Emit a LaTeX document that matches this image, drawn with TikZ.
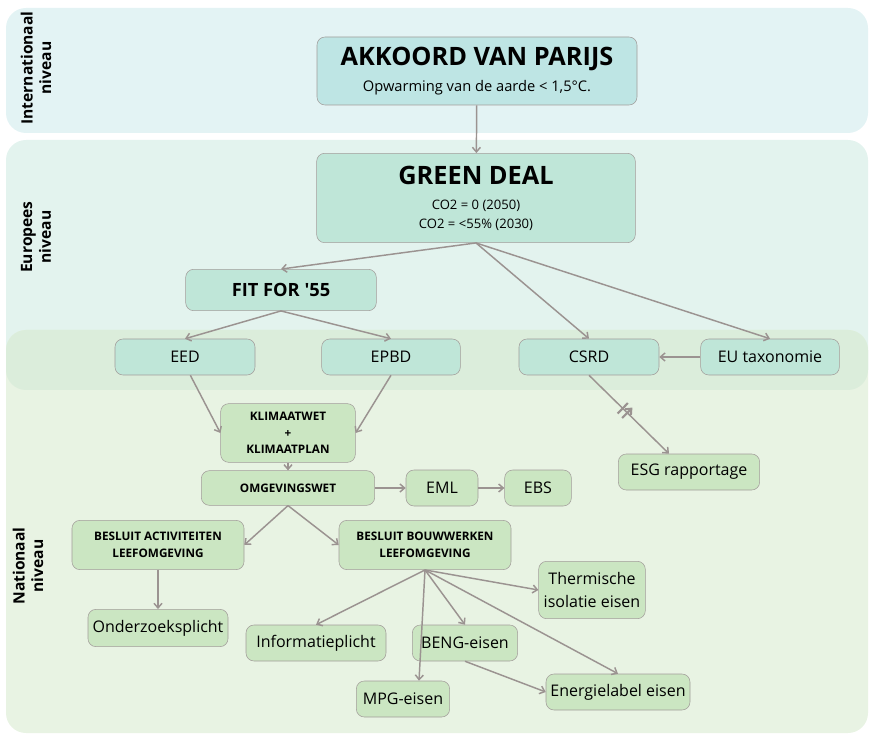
\documentclass[tikz,border=0pt]{standalone}
\usepackage{fontspec}
\setmainfont{Open Sans}
\usetikzlibrary{arrows.meta,decorations.markings}

\definecolor{bandint}{HTML}{E3F3F4}
\definecolor{bandeu}{HTML}{E3F3EE}
\definecolor{bandmix}{HTML}{DBEDDB}
\definecolor{bandnl}{HTML}{E8F3E3}
\definecolor{cyanfill}{HTML}{BEE5E4}
\definecolor{mintfill}{HTML}{BFE6D8}
\definecolor{greenfill}{HTML}{CBE6C2}
\definecolor{edgegray}{HTML}{A29C9A}
\definecolor{arrowgray}{HTML}{9B9391}

\newcommand{\bigtitle}{\bfseries\fontsize{19}{22}\selectfont}
\newcommand{\subtxt}{\fontsize{11}{13}\selectfont}
\newcommand{\smalltxt}{\fontsize{9.8}{12.5}\selectfont}
\newcommand{\nodetxt}{\fontsize{12}{17}\selectfont}
\newcommand{\capstxt}{\bfseries\fontsize{8.8}{12.5}\selectfont}

\begin{document}
\begin{tikzpicture}[x=0.75pt,y=-0.75pt,
    box/.style={draw=edgegray,rounded corners=6pt,align=center,inner sep=1pt,font=\nodetxt},
    eubox/.style={box,fill=mintfill},
    nlbox/.style={box,fill=greenfill},
    level/.style={rotate=90,align=center,font=\bfseries\fontsize{11.7}{14}\selectfont},
    conn/.style={draw=arrowgray,line width=1.1pt,-{Straight Barb[length=3.5pt,width=6pt]}}]
  \useasboundingbox (0,0) rectangle (870,737);

  % achtergrond per niveau
  \fill[bandint,rounded corners=15pt] (6,8) rectangle (868,133);
  \fill[bandeu,rounded corners=15pt] (6,140) rectangle (868,390);
  \fill[bandnl,rounded corners=15pt] (6,330) rectangle (868,733);
  \fill[bandmix,rounded corners=15pt] (6,330) rectangle (868,390);

  \node[level] (intl) at (36,68) {Internationaal\\niveau};
  \node[level] (eur) at (36,237) {Europees\\niveau};
  \node[level] (natl) at (28,566) {Nationaal\\niveau};

  % internationaal + europees
  \node[box,fill=cyanfill,minimum width=240pt,minimum height=51pt] (parijs) at (477,71)
    {\bigtitle AKKOORD VAN PARIJS\\[2pt]\subtxt Opwarming van de aarde < 1,5°C.};
  \node[eubox,minimum width=239pt,minimum height=67pt] (gd) at (476,198)
    {\bigtitle GREEN DEAL\\[2pt]\smalltxt CO2 = 0 (2050)\\[-3pt]\smalltxt CO2 = <55\% (2030)};
  \node[eubox,minimum width=143pt,minimum height=31pt,font=\bfseries\fontsize{13.7}{16}\selectfont] (fit) at (281,290) {FIT FOR \textquotesingle55};
  \node[eubox,minimum width=105pt,minimum height=27pt] (eed) at (185,357) {EED};
  \node[eubox,minimum width=104pt,minimum height=27pt] (epbd) at (391,357) {EPBD};
  \node[eubox,minimum width=105pt,minimum height=27pt] (csrd) at (589,357) {CSRD};
  \node[eubox,minimum width=104pt,minimum height=27pt] (tax) at (770,357) {EU taxonomie};

  % nationaal
  \node[nlbox,minimum width=101pt,minimum height=44pt,font=\capstxt] (klimaat) at (288,433) {KLIMAATWET\\+\\KLIMAATPLAN};
  \node[nlbox,minimum width=130pt,minimum height=26pt,font=\capstxt] (ow) at (288,488) {OMGEVINGSWET};
  \node[nlbox,minimum width=54pt,minimum height=27pt] (eml) at (442,488) {EML};
  \node[nlbox,minimum width=50pt,minimum height=27pt] (ebs) at (538,488) {EBS};
  \node[nlbox,minimum width=106pt,minimum height=27pt] (esg) at (689,472) {ESG rapportage};
  \node[nlbox,minimum width=129pt,minimum height=37pt,font=\capstxt] (bal) at (158,545) {BESLUIT ACTIVITEITEN\\LEEFOMGEVING};
  \node[nlbox,minimum width=129pt,minimum height=37pt,font=\capstxt] (bbl) at (425,545) {BESLUIT BOUWWERKEN\\LEEFOMGEVING};
  \node[nlbox,minimum width=105pt,minimum height=28pt] (onderzoek) at (158,628) {Onderzoeksplicht};
  \node[nlbox,minimum width=105pt,minimum height=27pt] (info) at (316,643) {Informatieplicht};
  \node[nlbox,minimum width=79pt,minimum height=27pt] (beng) at (465,643) {BENG-eisen};
  \node[nlbox,minimum width=80pt,minimum height=43pt] (thermisch) at (592,590) {Thermische\\isolatie eisen};
  \node[nlbox,minimum width=70pt,minimum height=27pt] (mpg) at (403,699) {MPG-eisen};
  \node[nlbox,minimum width=108pt,minimum height=27pt] (label) at (618,692) {Energielabel eisen};

  % verbindingen
  \draw[conn] (parijs) -- (gd);
  \draw[conn] (gd.south) -- (fit.north);
  \draw[conn] (gd.south) -- (csrd.north);
  \draw[conn] (gd.south) -- (tax.north);
  \draw[conn] (fit.south) -- (eed.north);
  \draw[conn] (fit.south) -- (epbd.north);
  \draw[conn] (tax) -- (csrd);
  \draw[conn,postaction={decorate},decoration={markings,
      mark=at position 0.45 with {\draw[arrowgray,line width=1.6pt] (-2.4pt,-5.5pt) -- (-2.4pt,5.5pt) (2.4pt,-5.5pt) -- (2.4pt,5.5pt);}}]
    (csrd.south) -- ([xshift=-15pt]esg.north);
  \draw[conn] ([xshift=4pt]eed.south) -- (klimaat.west);
  \draw[conn] (epbd.south) -- (klimaat.east);
  \draw[conn] (klimaat) -- (ow);
  \draw[conn] (ow) -- (eml);
  \draw[conn] (eml) -- (ebs);
  \draw[conn] (ow.south) -- (bal.east);
  \draw[conn] (ow.south) -- (bbl.west);
  \draw[conn] (bal) -- (onderzoek);
  \draw[conn] (bbl.south) -- (info.north);
  \draw[conn] (bbl.south) -- ([xshift=12pt]mpg.north);
  \draw[conn] (bbl.south) -- (beng.north);
  \draw[conn] (bbl.south) -- (thermisch.west);
  \draw[conn] (bbl.south) -- (label.north);
  \draw[conn] (beng.south) -- (label.west);
\end{tikzpicture}
\end{document}
